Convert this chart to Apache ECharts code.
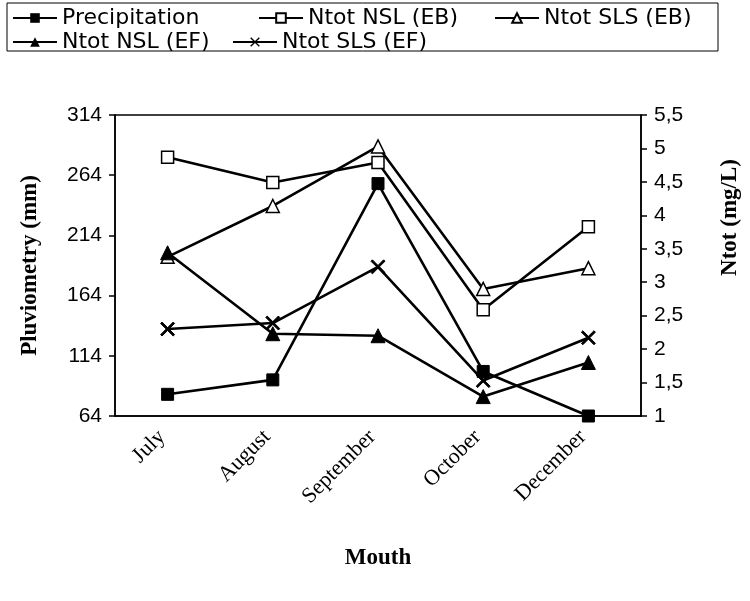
<!DOCTYPE html>
<html>
<head>
<meta charset="utf-8">
<script src="https://cdn.jsdelivr.net/npm/echarts@6/dist/echarts.min.js"></script>
<style>
  html, body { margin: 0; padding: 0; background: #fff; }
  #chart { width: 750px; height: 601px; }
</style>
</head>
<body>
<div id="chart"></div>
<script>
const months = ['July', 'August', 'September', 'October', 'December'];
const precipitation = [82, 94, 257, 101, 64];
const ntotNslEB = [4.87, 4.49, 4.79, 2.59, 3.83];
const ntotSlsEB = [3.38, 4.14, 5.03, 2.9, 3.21];
const ntotNslEF = [3.44, 2.23, 2.2, 1.29, 1.8];
const ntotSlsEF = [2.3, 2.39, 3.23, 1.53, 2.17];

const crossPath = 'path://M0,1L1,0L5,4L9,0L10,1L6,5L10,9L9,10L5,6L1,10L0,9L4,5Z';

const chart = echarts.init(document.getElementById('chart'));

const lineBase = {
  type: 'line',
  lineStyle: { color: '#000', width: 2.6 },
  symbolKeepAspect: true,
  z: 3
};

const legendText = { color: '#000', fontFamily: 'DejaVu Sans', fontSize: 22 };
const legendItem = (name, left, top) => ({
  data: [name], left: left, top: top, itemWidth: 44, itemHeight: 12, itemGap: 0,
  textStyle: legendText, padding: 0
});
const serifBold = { color: '#000', fontFamily: 'Liberation Serif, Times New Roman', fontWeight: 'bold', fontSize: 23 };

chart.setOption({
  backgroundColor: '#fff',
  animation: false,
  graphic: [{
    type: 'rect',
    shape: { x: 7, y: 3, width: 711, height: 48 },
    style: { fill: 'none', stroke: '#000', lineWidth: 1 }
  }],
  legend: [
    legendItem('Precipitation', 12, 7),
    legendItem('Ntot NSL (EB)', 258, 7),
    legendItem('Ntot SLS (EB)', 494, 7),
    legendItem('Ntot NSL (EF)', 12, 31),
    legendItem('Ntot SLS (EF)', 232, 31)
  ],
  grid: { left: 115, right: 98, top: 115, bottom: 185, show: true, borderColor: '#000', borderWidth: 1.5 },
  xAxis: {
    type: 'category',
    data: months,
    name: 'Mouth',
    nameLocation: 'middle',
    nameGap: 131,
    nameTextStyle: serifBold,
    axisLine: { lineStyle: { color: '#000', width: 1.5 } },
    axisTick: { lineStyle: { color: '#000', width: 1.5 }, length: 6 },
    axisLabel: {
      rotate: 45, color: '#000', margin: 12, padding: [0, 8, 0, 0],
      fontFamily: 'Liberation Serif, Times New Roman', fontSize: 22
    }
  },
  yAxis: [
    {
      type: 'value', min: 64, max: 314, interval: 50,
      name: 'Pluviometry (mm)',
      nameLocation: 'middle', nameRotate: 90, nameGap: 73,
      nameTextStyle: serifBold,
      axisLine: { show: true, lineStyle: { color: '#000', width: 1.5 } },
      axisTick: { show: true, lineStyle: { color: '#000', width: 1.5 }, length: 6 },
      axisLabel: { color: '#000', fontFamily: 'Liberation Sans, Arial', fontSize: 21, margin: 13 },
      splitLine: { show: false }
    },
    {
      type: 'value', min: 1, max: 5.5, interval: 0.5, position: 'right',
      name: 'Ntot (mg/L)',
      nameLocation: 'middle', nameRotate: 90, nameGap: 78,
      nameTextStyle: Object.assign({}, serifBold, { padding: [0, 0, 0, 96] }),
      axisLine: { show: true, lineStyle: { color: '#000', width: 1.5 } },
      axisTick: { show: true, lineStyle: { color: '#000', width: 1.5 }, length: 6 },
      axisLabel: {
        color: '#000', fontFamily: 'Liberation Sans, Arial', fontSize: 21, margin: 13,
        formatter: v => String(v).replace('.', ',')
      },
      splitLine: { show: false }
    }
  ],
  series: [
    Object.assign({}, lineBase, {
      name: 'Precipitation', data: precipitation, yAxisIndex: 0,
      symbol: 'rect', symbolSize: 12,
      itemStyle: { color: '#000', borderColor: '#000' }
    }),
    Object.assign({}, lineBase, {
      name: 'Ntot NSL (EB)', data: ntotNslEB, yAxisIndex: 1,
      symbol: 'rect', symbolSize: 12,
      itemStyle: { color: '#fff', borderColor: '#000', borderWidth: 1.5 }
    }),
    Object.assign({}, lineBase, {
      name: 'Ntot SLS (EB)', data: ntotSlsEB, yAxisIndex: 1,
      symbol: 'triangle', symbolSize: 13,
      itemStyle: { color: '#fff', borderColor: '#000', borderWidth: 1.5 }
    }),
    Object.assign({}, lineBase, {
      name: 'Ntot NSL (EF)', data: ntotNslEF, yAxisIndex: 1,
      symbol: 'triangle', symbolSize: 14,
      itemStyle: { color: '#000', borderColor: '#000' }
    }),
    Object.assign({}, lineBase, {
      name: 'Ntot SLS (EF)', data: ntotSlsEF, yAxisIndex: 1,
      symbol: crossPath, symbolSize: 14,
      itemStyle: { color: '#000', borderColor: '#000' }
    })
  ]
});
</script>
</body>
</html>
